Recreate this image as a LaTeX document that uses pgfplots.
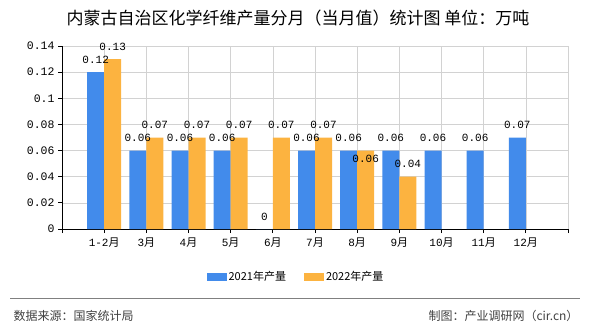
\documentclass[border=0pt]{standalone}
\usepackage{fontspec}
\setmainfont{Liberation Mono}
\newfontfamily\cjk{Noto Sans CJK SC}
\usepackage{pgfplots}
\pgfplotsset{compat=1.18}
\usepackage{pgfplotstable}
\definecolor{cblue}{RGB}{66,139,235}
\definecolor{corange}{RGB}{252,179,64}
\definecolor{gridc}{RGB}{210,210,210}
\pgfplotstableread{
x y lab dy
1 0.12 0.12 12
2 0.06 0.06 12.5
3 0.06 0.06 12.5
4 0.06 0.06 12.5
5 0 0 12
6 0.06 0.06 12.5
7 0.06 0.06 12.5
8 0.06 0.06 12.5
9 0.06 0.06 12.5
10 0.06 0.06 12.5
11 0.07 0.07 12.5
}\tA
\pgfplotstableread{
x y lab dy
1 0.13 0.13 12.5
2 0.07 0.07 12.5
3 0.07 0.07 12.5
4 0.07 0.07 12.5
5 0.07 0.07 12.5
6 0.07 0.07 12.5
7 0.06 0.06 -8
8 0.04 0.04 12.5
}\tB
\begin{document}
\begin{tikzpicture}
\useasboundingbox (0pt,0pt) rectangle (590pt,330pt);
\node at (298pt,312pt) {\cjk\fontsize{17}{17}\selectfont 内蒙古自治区化学纤维产量分月（当月值）统计图 单位：万吨};
\begin{axis}[
  at={(62pt,101pt)}, anchor=south west, scale only axis,
  width=506pt, height=183pt,
  xmin=0, xmax=12, ymin=0, ymax=0.14,
  ybar=0pt, bar width=17pt,
  axis x line*=bottom, axis y line*=left,
  axis line style={black, line width=0.8pt},
  xtick={0,...,12},
  xticklabels={,{1-2{\cjk 月}},{3{\cjk 月}},{4{\cjk 月}},{5{\cjk 月}},{6{\cjk 月}},{7{\cjk 月}},{8{\cjk 月}},{9{\cjk 月}},{10{\cjk 月}},{11{\cjk 月}},{12{\cjk 月}},},
  ytick={0,0.02,0.04,0.06,0.08,0.1,0.12,0.14},
  yticklabels={0,0.02,0.04,0.06,0.08,0.1,0.12,0.14},
  xticklabel style={font=\fontsize{11}{11}\selectfont, yshift=-1pt},
  yticklabel style={font=\fontsize{11.5}{11.5}\selectfont},
  tick align=outside, major tick length=4pt,
  tick style={black, line width=0.8pt},
  grid=major, grid style={gridc, line width=0.6pt},
  nodes near coords, point meta=explicit symbolic,
  visualization depends on={\thisrow{dy}\as\dy},
  nodes near coords style={font=\fontsize{11}{11}\selectfont, anchor=center, yshift=\dy pt, text=black},
  legend style={at={(0.4625,-0.262)}, anchor=center, draw=none, fill=none,
    legend columns=2, font=\cjk\fontsize{11}{11}\selectfont,
    /tikz/every even column/.append style={column sep=16pt}},
]
\addplot[fill=cblue, draw=none, legend image code/.code={\fill[cblue] (0pt,-4pt) rectangle (20pt,4pt);}] table[x=x, y=y, meta=lab] {\tA};
\addlegendentry{2021年产量}
\addplot[fill=corange, draw=none, legend image code/.code={\fill[corange] (0pt,-4pt) rectangle (20pt,4pt);}] table[x=x, y=y, meta=lab] {\tB};
\addlegendentry{2022年产量}
\end{axis}
\draw[gray, line width=1pt] (10pt,32pt) -- (580pt,32pt);
\node[anchor=west, text=darkgray] at (10pt,14pt) {\cjk\fontsize{12}{12}\selectfont 数据来源：国家统计局};
\node[anchor=east, text=darkgray] at (582pt,14pt) {\cjk\fontsize{12}{12}\selectfont 制图：产业调研网（cir.cn）};
\end{tikzpicture}
\end{document}
